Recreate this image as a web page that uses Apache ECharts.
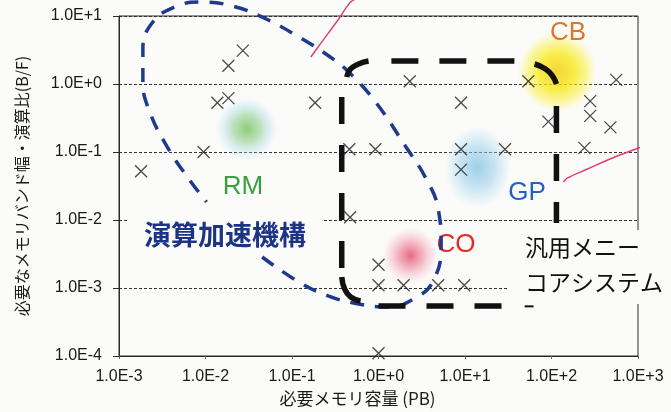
<!DOCTYPE html>
<html><head><meta charset="utf-8">
<script src="https://cdn.jsdelivr.net/npm/echarts@6/dist/echarts.min.js"></script>
<style>html,body{margin:0;padding:0;background:#fbfbf9}#chart{width:671px;height:412px}</style>
</head><body><div id="chart"></div>
<script>
// Applications: required memory capacity (PB) and required memory bandwidth / flop ratio (B/F)
const memoryPB = [0.0018, 0.0095, 0.0137, 0.0184, 0.0184, 0.027, 0.185, 0.46, 0.92, 2.3, 9.0, 9.0, 9.0, 29, 54, 92, 240, 280, 280, 480, 560, 0.47, 1.0, 1.0, 1.95, 4.9, 9.8, 1.0];
const bytesPerFlop = [0.052, 0.10, 0.53, 0.62, 1.85, 3.1, 0.53, 0.11, 0.11, 1.1, 0.53, 0.11, 0.055, 0.11, 1.1, 0.28, 0.115, 0.56, 0.34, 0.23, 1.15, 0.011, 0.0022, 0.0011, 0.0011, 0.0011, 0.0011, 0.00011];

const xTickLabels = ['1.0E-3', '1.0E-2', '1.0E-1', '1.0E+0', '1.0E+1', '1.0E+2', '1.0E+3'];
const yTickLabels = ['1.0E-4', '1.0E-3', '1.0E-2', '1.0E-1', '1.0E+0', '1.0E+1'];

// Application clusters
const clusterNames = ['RM', 'GP', 'CB', 'CO'];
const clusterMemoryPB = [0.030, 14, 117, 2.33];
const clusterBytesPerFlop = [0.22, 0.060, 1.5, 0.0030];

// Region outlines, given in decades: [log10 PB, log10 B/F]
const acceleratorOutline = [
  [-1.345, -2.544], [-0.920, -2.912], [-0.575, -3.118], [-0.230, -3.235], [0.115, -3.279],
  [0.425, -3.147], [0.632, -2.897], [0.724, -2.382], [0.690, -1.838], [0.552, -1.397],
  [0.310, -0.912], [-0.034, -0.265], [-0.345, 0.176], [-0.575, 0.412], [-0.920, 0.691],
  [-1.299, 0.956], [-1.690, 1.147], [-2.069, 1.206], [-2.356, 1.132], [-2.609, 0.912],
  [-2.724, 0.515], [-2.724, 0.029], [-2.644, -0.412], [-2.448, -0.912], [-2.218, -1.353],
  [-1.989, -1.735]
];
const manycoreTop = [[0.149, 0.338], [1.575, 0.338]];
const manycoreLeft = [[-0.425, -0.191], [-0.425, -2.75]];
const manycoreRight = [[2.057, -0.324], [2.057, -2.044]];
const manycoreBottom = [[0.0, -3.265], [1.437, -3.265]];
const manycoreCornerTL = [[-0.368, 0.103], [-0.322, 0.221], [-0.230, 0.294], [-0.115, 0.338]];
const manycoreCornerTR = [[1.805, 0.294], [1.931, 0.221], [2.011, 0.118], [2.057, 0.0]];
const manycoreCornerBL = [[-0.425, -2.838], [-0.391, -3.015], [-0.322, -3.132], [-0.207, -3.191]];
const manycoreTail = [[1.690, -3.27], [1.793, -3.27]];
// Pen annotations
const penStrokeA = [[-0.782, 0.397], [-0.690, 0.559], [-0.460, 0.956], [-0.322, 1.206], [-0.207, 1.279]];
const penStrokeB = [[2.138, -1.441], [2.184, -1.382], [2.414, -1.25], [2.759, -1.059], [3.103, -0.897], [3.345, -0.779]];
const penStrokeC = [[3.218, 1.206], [3.345, 1.25]];

const fromDecades = pts => pts.map(p => [Math.pow(10, p[0]), Math.pow(10, p[1])]);

const blobStyles = {
  RM: { size: [62, 62], stops: [[0, 'rgba(105,190,75,0.95)'], [0.45, 'rgba(140,205,140,0.7)'], [0.75, 'rgba(175,220,235,0.45)'], [1, 'rgba(190,225,240,0)']] },
  GP: { size: [68, 82], stops: [[0, 'rgba(120,190,228,0.9)'], [0.5, 'rgba(150,205,235,0.65)'], [0.8, 'rgba(180,220,240,0.35)'], [1, 'rgba(200,230,245,0)']] },
  CB: { size: [80, 80], stops: [[0, 'rgba(240,205,10,1)'], [0.45, 'rgba(248,232,15,0.95)'], [0.75, 'rgba(250,240,60,0.6)'], [1, 'rgba(252,245,120,0)']] },
  CO: { size: [56, 56], stops: [[0, 'rgba(225,55,90,0.95)'], [0.45, 'rgba(236,125,150,0.7)'], [0.8, 'rgba(245,175,195,0.35)'], [1, 'rgba(250,200,215,0)']] }
};

const blobData = clusterNames.map((name, i) => {
  const st = blobStyles[name];
  return {
    name,
    value: [clusterMemoryPB[i], clusterBytesPerFlop[i]],
    symbolSize: st.size,
    itemStyle: {
      color: new echarts.graphic.RadialGradient(0.5, 0.5, 0.5,
        st.stops.map(s => ({ offset: s[0], color: s[1] })))
    }
  };
});

const appPoints = memoryPB.map((x, i) => [x, bytesPerFlop[i]]);

const latin = "'Liberation Sans', Arial, 'Noto Sans CJK JP', sans-serif";
const cjk = "'Noto Sans CJK JP', 'Liberation Sans', sans-serif";

const expOf = v => Math.round(Math.log10(v));

function outline(data, style) {
  return {
    type: 'line', data, symbol: 'none', silent: true, clip: false,
    smooth: style.smooth || false, z: style.z || 3,
    lineStyle: { color: style.color, width: style.width, type: style.type || 'solid', cap: style.cap || 'butt' }
  };
}

const chart = echarts.init(document.getElementById('chart'), null, { renderer: 'canvas' });
chart.setOption({
  backgroundColor: '#fbfbf9',
  animation: false,
  grid: { left: 119, right: 33, top: 16, bottom: 55, show: true, borderColor: '#2a2a2a', borderWidth: 1, backgroundColor: 'transparent' },
  xAxis: {
    type: 'log', logBase: 10, min: 0.001, max: 1000,
    name: '必要メモリ容量 (PB)', nameLocation: 'middle', nameGap: 34,
    nameTextStyle: { fontFamily: cjk, fontSize: 17, color: '#1a1a1a', padding: [0, 42, 0, 0] },
    axisLine: { show: true, lineStyle: { color: '#2a2a2a', width: 1 } },
    axisTick: { show: true, length: 3, inside: false, lineStyle: { color: '#666' } },
    minorTick: { show: false },
    splitLine: { show: false },
    axisLabel: {
      fontFamily: latin, fontSize: 16, color: '#1a1a1a', margin: 13,
      formatter: v => xTickLabels[expOf(v) + 3]
    }
  },
  yAxis: {
    type: 'log', logBase: 10, min: 0.0001, max: 10,
    name: '必要なメモリバンド幅・演算比(B/F)', nameLocation: 'middle', nameGap: 89,
    nameTextStyle: { fontFamily: cjk, fontSize: 16, color: '#1a1a1a' },
    axisLine: { show: true, lineStyle: { color: '#2a2a2a', width: 1 } },
    axisTick: { show: true, length: 6, lineStyle: { color: '#2a2a2a' } },
    splitLine: { show: true, lineStyle: { color: '#333', width: 1, type: [3, 2] } },
    axisLabel: {
      fontFamily: latin, fontSize: 16, color: '#1a1a1a', margin: 17,
      formatter: v => yTickLabels[expOf(v) + 4]
    }
  },
  series: [
    { type: 'scatter', name: 'clusters', data: blobData, symbol: 'circle', silent: true, z: 1 },
    outline(fromDecades(acceleratorOutline), { color: '#1d3a8c', width: 3.5, type: [14, 11], smooth: 0.45, z: 3 }),
    outline(fromDecades(manycoreTop), { color: '#111', width: 5.5, type: [27, 21], z: 4 }),
    outline(fromDecades(manycoreLeft), { color: '#111', width: 5.5, type: [27, 21], z: 4 }),
    outline(fromDecades(manycoreRight), { color: '#111', width: 5.5, type: [27, 21], z: 4 }),
    outline(fromDecades(manycoreBottom), { color: '#111', width: 5.5, type: [27, 21], z: 4 }),
    outline(fromDecades(manycoreCornerTL), { color: '#111', width: 5.5, smooth: 0.5, z: 4 }),
    outline(fromDecades(manycoreCornerTR), { color: '#111', width: 5.5, smooth: 0.5, z: 4 }),
    outline(fromDecades(manycoreCornerBL), { color: '#111', width: 5.5, smooth: 0.5, z: 4 }),
    outline(fromDecades(manycoreTail), { color: '#111', width: 2, z: 4 }),
    outline(fromDecades(penStrokeA), { color: '#e23a72', width: 1.4, smooth: 0.3, z: 6 }),
    outline(fromDecades(penStrokeB), { color: '#e23a72', width: 1.4, smooth: 0.3, z: 6 }),
    outline(fromDecades(penStrokeC), { color: '#e23a72', width: 1.4, z: 6 }),
    {
      type: 'scatter', name: 'applications', data: appPoints, z: 5, silent: true,
      symbol: 'path://M0,0L10,10M10,0L0,10', symbolSize: 12,
      itemStyle: { color: 'none', borderColor: '#1e1e1e', borderWidth: 1.3 }
    }
  ],
  graphic: [
    { type: 'text', z: 10, style: { text: '演算加速機構', x: 225, y: 235, align: 'center', verticalAlign: 'middle', font: 'bold 27px ' + cjk, fill: '#1c3386', backgroundColor: '#fbfbf9', padding: [3, 16, 3, 16] } },
    { type: 'text', z: 10, style: { text: '汎用メニー\nコアシステム', x: 507, y: 230, align: 'left', verticalAlign: 'top', font: '23px ' + cjk, lineHeight: 35, fill: '#111', backgroundColor: '#fbfbf9', padding: [0, 8, 4, 18] } },
    { type: 'text', z: 10, style: { text: 'CB', x: 568, y: 33, align: 'center', verticalAlign: 'middle', font: '26px ' + latin, fill: '#d9772a' } },
    { type: 'text', z: 10, style: { text: 'RM', x: 243, y: 187, align: 'center', verticalAlign: 'middle', font: '26px ' + latin, fill: '#3a9f3e' } },
    { type: 'text', z: 10, style: { text: 'GP', x: 527, y: 193, align: 'center', verticalAlign: 'middle', font: '26px ' + latin, fill: '#2461bf' } },
    { type: 'text', z: 2, style: { text: 'CO', x: 456, y: 245, align: 'center', verticalAlign: 'middle', font: '26px ' + latin, fill: '#e42a22' } }
  ]
});
</script>
</body></html>
